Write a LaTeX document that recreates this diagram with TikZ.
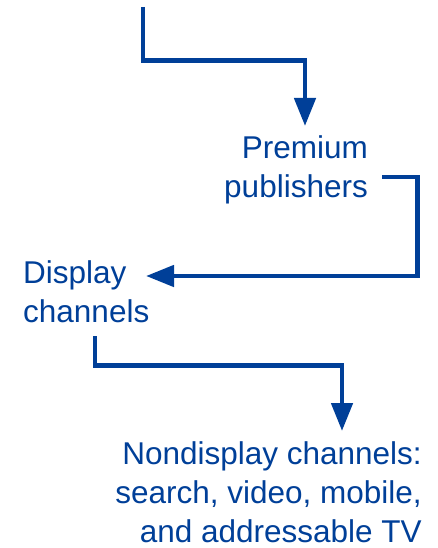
\documentclass[tikz,border=0pt]{standalone}
\usepackage{fontspec}
\setmainfont{Liberation Sans}
\usetikzlibrary{arrows.meta}
\definecolor{navy}{RGB}{0,63,152}
\begin{document}
\begin{tikzpicture}[x=1pt,y=-1pt,
  lbl/.style={text=navy,inner sep=0pt,font=\fontsize{31.5}{38.8}\selectfont},
  conn/.style={draw=navy,line width=4.7pt,line join=miter,-{Triangle[length=28pt,width=21pt]}}]
\useasboundingbox (0,0) rectangle (438,548);
\node[lbl,align=right,anchor=base east] (prem) at (368,197.5) {Premium\\publishers};
\node[lbl,align=left,anchor=base west] (disp) at (23,322) {Display\\channels};
\node[lbl,align=right,anchor=base east] (nond) at (422,542) {Nondisplay channels:\\search, video, mobile,\\and addressable TV};
\coordinate (top) at (143,7);
\coordinate (t1) at (305,126);
\coordinate (s2) at (382,177);
\coordinate (t2) at (146,276);
\coordinate (s3) at (95,336);
\coordinate (t3) at (342,431);
\draw[conn] (top) |- (t1 |- 0,60.5) -- (t1);
\draw[conn] (s2) -| (417.5,276) -- (t2);
\draw[conn] (s3) |- (t3 |- 0,365.5) -- (t3);
\end{tikzpicture}
\end{document}
